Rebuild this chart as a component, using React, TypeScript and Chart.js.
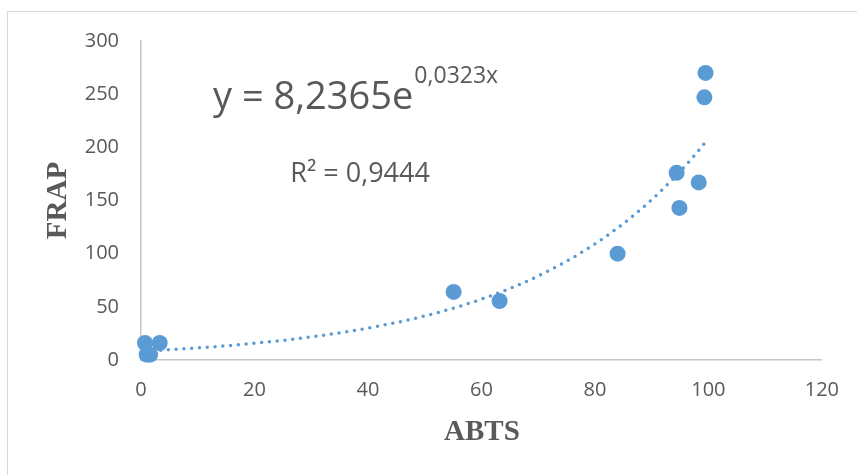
import React, { useEffect, useRef } from "react";
import { Chart, registerables } from "chart.js";

Chart.register(...registerables);

const abtsValues = [0.7, 1.0, 1.6, 3.3, 55.1, 63.2, 84.0, 94.4, 94.9, 98.3, 99.3, 99.5];
const frapValues = [16, 5, 5, 16, 64, 55.5, 100, 176, 143, 167, 247, 270];
const trendA = 8.2365;
const trendB = 0.0323;
const equationMain = "y = 8,2365e";
const equationExp = "0,0323x";
const r2Label = "R² = 0,9444";
const xTitle = "ABTS";
const yTitle = "FRAP";

const BLUE = "#5B9BD5";
const TEXT = "#595959";

const overlayPlugin = {
  id: "overlay",
  afterDatasetsDraw(chart: any) {
    const { ctx, scales } = chart;
    const xs = scales.x;
    const ys = scales.y;
    const minX = Math.min(...abtsValues);
    const maxX = Math.max(...abtsValues);
    ctx.save();
    ctx.beginPath();
    const steps = 200;
    for (let i = 0; i <= steps; i++) {
      const xv = minX + ((maxX - minX) * i) / steps;
      const yv = trendA * Math.exp(trendB * xv);
      const px = xs.getPixelForValue(xv);
      const py = ys.getPixelForValue(yv);
      if (i === 0) ctx.moveTo(px, py);
      else ctx.lineTo(px, py);
    }
    ctx.strokeStyle = BLUE;
    ctx.lineWidth = 3.5;
    ctx.lineCap = "round";
    ctx.setLineDash([0, 7.8]);
    ctx.stroke();
    ctx.restore();
  },
  afterDraw(chart: any) {
    const { ctx, scales, chartArea } = chart;
    const xs = scales.x;
    const ys = scales.y;
    ctx.save();
    ctx.fillStyle = TEXT;
    ctx.textBaseline = "alphabetic";
    ctx.textAlign = "left";
    const ex = xs.getPixelForValue(12.7);
    const ey = ys.getPixelForValue(236);
    ctx.font = "38px 'Open Sans'";
    ctx.fillText(equationMain, ex, ey);
    const w = ctx.measureText(equationMain).width;
    ctx.font = "23px 'Open Sans'";
    ctx.fillText(equationExp, ex + w + 1, ey - 26);
    ctx.font = "27px 'Open Sans'";
    ctx.fillText(r2Label, xs.getPixelForValue(26.3), ys.getPixelForValue(167));
    ctx.font = "bold 29px 'Liberation Serif'";
    ctx.textAlign = "center";
    ctx.textBaseline = "middle";
    ctx.fillText(xTitle, (chartArea.left + chartArea.right) / 2 + 0.5, 433);
    ctx.translate(59, (chartArea.top + chartArea.bottom) / 2);
    ctx.rotate(-Math.PI / 2);
    ctx.fillText(yTitle, 0, 0);
    ctx.restore();
  },
};

export default function App() {
  const ref = useRef<HTMLCanvasElement>(null);
  useEffect(() => {
    if (!ref.current) return;
    const data = abtsValues.map((x, i) => ({ x, y: frapValues[i] }));
    const chart = new Chart(ref.current, {
      type: "scatter",
      data: {
        datasets: [
          {
            data,
            backgroundColor: BLUE,
            borderColor: BLUE,
            borderWidth: 0,
            pointRadius: 8,
            pointHoverRadius: 8,
            clip: false,
          } as any,
        ],
      },
      options: {
        animation: false,
        responsive: false,
        maintainAspectRatio: false,
        layout: { padding: { left: 0, top: 41, right: 35, bottom: 0 } },
        plugins: { legend: { display: false }, tooltip: { enabled: false } },
        scales: {
          x: {
            type: "linear",
            min: 0,
            max: 120,
            ticks: {
              stepSize: 20,
              color: TEXT,
              font: { family: "'Open Sans'", size: 20 },
              padding: 18,
            },
            grid: { display: false, drawTicks: false },
            border: { display: true, color: "#c6c6c6", width: 1.5 },
            afterFit(scale: any) {
              scale.height = 115;
            },
          },
          y: {
            type: "linear",
            min: 0,
            max: 300,
            ticks: {
              stepSize: 50,
              color: TEXT,
              font: { family: "'Open Sans'", size: 20 },
              padding: 22,
            },
            grid: { display: false, drawTicks: false },
            border: { display: true, color: "#c6c6c6", width: 1.5 },
            afterFit(scale: any) {
              scale.width = 141;
            },
          },
        },
      },
      plugins: [overlayPlugin],
    });
    return () => chart.destroy();
  }, []);
  return (
    <div style={{ position: "fixed", left: 0, top: 0, width: 857, height: 475, overflow: "hidden", background: "#fff" }}>
      <div
        style={{
          position: "absolute",
          left: 7,
          top: 11,
          width: 900,
          height: 500,
          border: "1px solid #d9d9d9",
          boxSizing: "border-box",
        }}
      />
      <canvas ref={ref} width={857} height={475} style={{ position: "absolute", left: 0, top: 0, width: 857, height: 475 }} />
    </div>
  );
}
